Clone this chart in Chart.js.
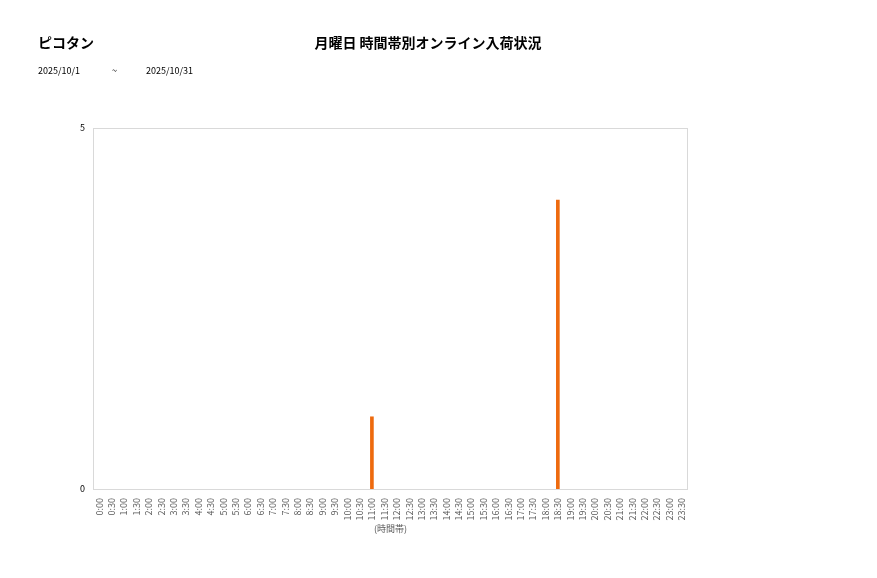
<!DOCTYPE html>
<html>
<head>
<meta charset="utf-8">
<script src="https://cdn.jsdelivr.net/npm/chart.js@4/dist/chart.umd.min.js"></script>
<style>
	body { margin: 0; background: #fff; font-family: "Noto Sans CJK JP", "Noto Sans", sans-serif; }
	#wrap { position: relative; width: 877px; height: 578px; }
	.txt { position: absolute; color: #000; white-space: nowrap; }
	#shop { left: 38px; top: 32px; font-size: 14px; font-weight: bold; }
	#title { left: 0; width: 856px; top: 32px; text-align: center; font-size: 14px; font-weight: bold; }
	.date { top: 64px; font-size: 9px; }
	canvas { position: absolute; left: 0; top: 0; }
</style>
</head>
<body>
<div id="wrap">
	<canvas id="chart" width="877" height="578"></canvas>
	<div class="txt" id="shop">ピコタン</div>
	<div class="txt" id="title">月曜日 時間帯別オンライン入荷状況</div>
	<div class="txt date" style="left:38px">2025/10/1</div>
	<div class="txt date" style="left:112px">~</div>
	<div class="txt date" style="left:146px">2025/10/31</div>
</div>
<script>
// Time slots (x axis)
var timeSlots = [
	'0:00', '0:30', '1:00', '1:30', '2:00', '2:30', '3:00', '3:30',
	'4:00', '4:30', '5:00', '5:30', '6:00', '6:30', '7:00', '7:30',
	'8:00', '8:30', '9:00', '9:30', '10:00', '10:30', '11:00', '11:30',
	'12:00', '12:30', '13:00', '13:30', '14:00', '14:30', '15:00', '15:30',
	'16:00', '16:30', '17:00', '17:30', '18:00', '18:30', '19:00', '19:30',
	'20:00', '20:30', '21:00', '21:30', '22:00', '22:30', '23:00', '23:30'
];

// Arrivals per slot
var arrivals = [
	0, 0, 0, 0, 0, 0, 0, 0,
	0, 0, 0, 0, 0, 0, 0, 0,
	0, 0, 0, 0, 0, 0, 1, 0,
	0, 0, 0, 0, 0, 0, 0, 0,
	0, 0, 0, 0, 0, 4, 0, 0,
	0, 0, 0, 0, 0, 0, 0, 0
];

var yTicks = [0, 5];
var xAxisTitle = '(時間帯)';

// Light grey frame round the plot area
var frame = {
	id: 'frame',
	beforeDatasetsDraw: function (chart) {
		var a = chart.chartArea, ctx = chart.ctx;
		ctx.save();
		ctx.strokeStyle = '#d9d9d9';
		ctx.lineWidth = 1;
		ctx.strokeRect(a.left + 0.5, a.top + 0.5, a.right - a.left - 1, a.bottom - a.top);
		ctx.restore();
	}
};

new Chart(document.getElementById('chart').getContext('2d'), {
	type: 'bar',
	data: {
		labels: timeSlots,
		datasets: [{
			data: arrivals,
			// empty slots draw nothing (avoids stray dots on the base line)
			backgroundColor: function (c) { return c.raw ? '#ee6a0e' : 'rgba(0,0,0,0)'; },
			borderWidth: 0,
			barThickness: 3
		}]
	},
	options: {
		responsive: false,
		animation: false,
		layout: { padding: { left: 60, right: 189, top: 128, bottom: 44 } },
		plugins: { legend: { display: false }, tooltip: { enabled: false } },
		scales: {
			x: {
				grid: { display: false },
				border: { display: false },
				ticks: {
					autoSkip: false,
					minRotation: 90,
					maxRotation: 90,
					padding: 1,
					color: '#595959',
					font: { family: 'Noto Sans CJK JP', size: 9 }
				},
				title: {
					display: true,
					text: xAxisTitle,
					color: '#595959',
					padding: { top: 2, bottom: 0 },
					font: { family: 'Noto Sans CJK JP', size: 9 }
				},
				afterFit: function (scale) { scale.height = 45; }
			},
			y: {
				min: yTicks[0],
				max: yTicks[yTicks.length - 1],
				grid: { display: false, drawTicks: false },
				border: { display: false },
				afterBuildTicks: function (scale) {
					scale.ticks = yTicks.map(function (v) { return { value: v }; });
				},
				ticks: {
					padding: 8,
					color: '#000',
					font: { family: 'Noto Sans CJK JP', size: 9 }
				},
				afterFit: function (scale) { scale.width = 33; }
			}
		}
	},
	plugins: [frame]
});
</script>
</body>
</html>
